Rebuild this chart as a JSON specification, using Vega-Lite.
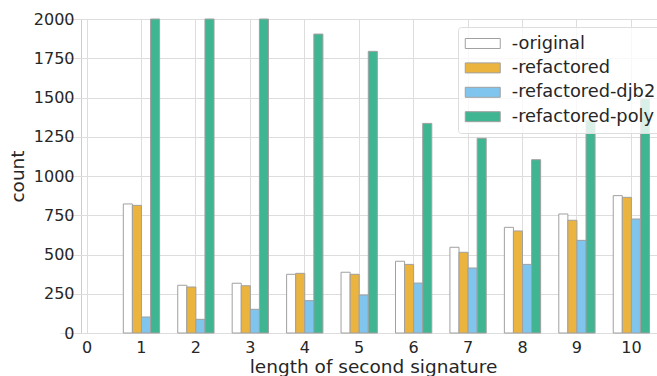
{
  "$schema": "https://vega.github.io/schema/vega-lite/v6.json",
  "autosize": {"type": "none"},
  "width": 576,
  "height": 314,
  "padding": {"left": 81, "top": 19, "right": 0, "bottom": 43},
  "background": "#ffffff",
  "config": {
    "font": "DejaVu Sans",
    "view": {"stroke": "#cccccc", "strokeWidth": 1},
    "axis": {"labelFont": "DejaVu Sans", "titleFont": "DejaVu Sans", "labelColor": "#262626", "titleColor": "#262626", "titleFontWeight": "normal", "gridColor": "#dddddd", "gridWidth": 1, "ticks": false, "domain": false}
  },
  "data": {
    "values": [
      {"length": 1, "series": "-original", "count": 822},
      {"length": 1, "series": "-refactored", "count": 813},
      {"length": 1, "series": "-refactored-djb2", "count": 102},
      {"length": 1, "series": "-refactored-poly", "count": 2000},
      {"length": 2, "series": "-original", "count": 304},
      {"length": 2, "series": "-refactored", "count": 293},
      {"length": 2, "series": "-refactored-djb2", "count": 87},
      {"length": 2, "series": "-refactored-poly", "count": 2000},
      {"length": 3, "series": "-original", "count": 317},
      {"length": 3, "series": "-refactored", "count": 301},
      {"length": 3, "series": "-refactored-djb2", "count": 151},
      {"length": 3, "series": "-refactored-poly", "count": 2000},
      {"length": 4, "series": "-original", "count": 374},
      {"length": 4, "series": "-refactored", "count": 380},
      {"length": 4, "series": "-refactored-djb2", "count": 206},
      {"length": 4, "series": "-refactored-poly", "count": 1904},
      {"length": 5, "series": "-original", "count": 387},
      {"length": 5, "series": "-refactored", "count": 374},
      {"length": 5, "series": "-refactored-djb2", "count": 242},
      {"length": 5, "series": "-refactored-poly", "count": 1794},
      {"length": 6, "series": "-original", "count": 457},
      {"length": 6, "series": "-refactored", "count": 437},
      {"length": 6, "series": "-refactored-djb2", "count": 318},
      {"length": 6, "series": "-refactored-poly", "count": 1335},
      {"length": 7, "series": "-original", "count": 546},
      {"length": 7, "series": "-refactored", "count": 514},
      {"length": 7, "series": "-refactored-djb2", "count": 414},
      {"length": 7, "series": "-refactored-poly", "count": 1240},
      {"length": 8, "series": "-original", "count": 673},
      {"length": 8, "series": "-refactored", "count": 650},
      {"length": 8, "series": "-refactored-djb2", "count": 437},
      {"length": 8, "series": "-refactored-poly", "count": 1104},
      {"length": 9, "series": "-original", "count": 758},
      {"length": 9, "series": "-refactored", "count": 718},
      {"length": 9, "series": "-refactored-djb2", "count": 590},
      {"length": 9, "series": "-refactored-poly", "count": 1352},
      {"length": 10, "series": "-original", "count": 875},
      {"length": 10, "series": "-refactored", "count": 864},
      {"length": 10, "series": "-refactored-djb2", "count": 726},
      {"length": 10, "series": "-refactored-poly", "count": 1490}
    ]
  },
  "mark": {"type": "bar", "stroke": "#a0a0a0", "strokeWidth": 1, "opacity": 1},
  "encoding": {
    "x": {
      "field": "length",
      "type": "ordinal",
      "scale": {"domain": [0, 1, 2, 3, 4, 5, 6, 7, 8, 9, 10], "range": [-21.2, 577.6], "paddingInner": 0, "paddingOuter": 0},
      "axis": {"title": "length of second signature", "labelAngle": 0, "bandPosition": 0.5, "labelFontSize": 16, "titleFontSize": 18.5, "labelPadding": 6, "titlePadding": 2, "titleX": 292, "titleAlign": "center", "grid": true}
    },
    "xOffset": {
      "field": "series",
      "type": "nominal",
      "scale": {"domain": ["-original", "-refactored", "-refactored-djb2", "-refactored-poly"], "paddingInner": 0, "paddingOuter": 1.4}
    },
    "y": {
      "field": "count",
      "type": "quantitative",
      "scale": {"domain": [0, 2000], "nice": false},
      "axis": {"title": "count", "format": "d", "values": [0, 250, 500, 750, 1000, 1250, 1500, 1750, 2000], "labelFontSize": 16, "titleFontSize": 18.5, "labelPadding": 7, "titlePadding": 6, "grid": true}
    },
    "color": {
      "field": "series",
      "type": "nominal",
      "scale": {"domain": ["-original", "-refactored", "-refactored-djb2", "-refactored-poly"], "range": ["#ffffff", "#ebb43f", "#80c5ee", "#40b592"]},
      "legend": {
        "title": null,
        "orient": "none",
        "legendX": 377,
        "legendY": 8,
        "fillColor": "rgba(255,255,255,0.8)",
        "strokeColor": "#dddddd",
        "cornerRadius": 3,
        "padding": 7,
        "labelFontSize": 17.8,
        "labelColor": "#262626",
        "symbolOffset": 8.25,
        "labelOffset": 19.5,
        "rowPadding": 5.4,
        "symbolType": "M-2,-0.571H2V0.571H-2Z",
        "symbolSize": 306,
        "symbolStrokeColor": "#a0a0a0",
        "symbolStrokeWidth": 1,
        "symbolOpacity": 1
      }
    }
  }
}
